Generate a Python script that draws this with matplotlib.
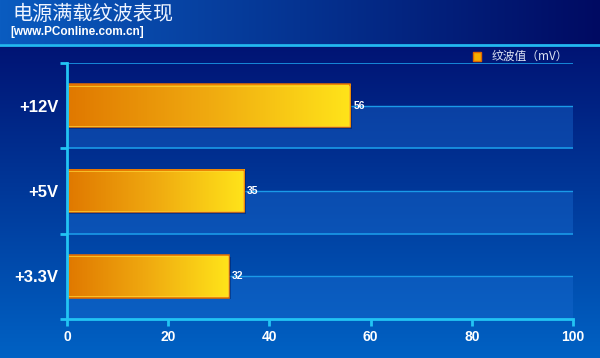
import numpy as np
import matplotlib
matplotlib.use('Agg')
import matplotlib.pyplot as plt
from matplotlib.patches import Rectangle

plt.rcParams['font.family'] = ['Liberation Sans', 'Noto Sans CJK SC', 'DejaVu Sans']

# data
categories = ['+3.3V', '+5V', '+12V']
ripple = [32, 35, 56]
xticks = [0, 20, 40, 60, 80, 100]
title = '电源满载纹波表现'
subtitle = '[www.PConline.com.cn]'
legend_label = '纹波值（mV）'

W, H = 600, 358
fig = plt.figure(figsize=(W / 100, H / 100), dpi=100)

# background: header with horizontal gradient, body with vertical gradient
bg = fig.add_axes([0, 0, 1, 1], zorder=-10)
img = np.zeros((H, W, 3))
top = np.array([0x00, 0x08, 0x68]) / 255
bot = np.array([0x00, 0x62, 0xc4]) / 255
t = np.linspace(0, 1, H)[:, None]
img[:] = (top * (1 - t) + bot * t)[:, None, :]
hl = np.array([0x0a, 0x5c, 0xc0]) / 255
hr = np.array([0x00, 0x0a, 0x62]) / 255
s = np.linspace(0, 1, W)[:, None]
img[:44] = (hl * (1 - s) + hr * s)[None, :, :]
bg.imshow(img, extent=[0, W, H, 0], aspect='auto')
bg.plot([0, W], [44.5, 44.5], color='#22b8f0', lw=2)
bg.set_xlim(0, W)
bg.set_ylim(H, 0)
bg.axis('off')

fig.text(12 / W, 1 - 15 / H, title, color='#eef4ff', fontsize=14.5,
         family=['Noto Sans CJK SC'], va='center', ha='left')
fig.text(10 / W, 1 - 32 / H, subtitle, color='white', fontsize=8.5,
         fontweight='bold', va='center', ha='left')

# legend
fig.patches.append(Rectangle((473 / W, 1 - 60.5 / H), 8 / W, 8.5 / H,
                             transform=fig.transFigure, facecolor='#f5b000',
                             edgecolor='#e06800', lw=1))
fig.text(492 / W, 1 - 56 / H, legend_label, color='#dde4f4', fontsize=8.5,
         family=['Noto Sans CJK SC', 'DejaVu Sans'], va='center', ha='left')

ax = fig.add_axes([67 / W, 1 - 319 / H, (573 - 67) / W, (319 - 63) / H])
ax.patch.set_alpha(0)

n = len(categories)
for i in range(n):
    ax.axhspan(i, i + 0.5, color='#1a6ad0', alpha=0.42, lw=0, zorder=0)
    ax.axhline(i + 0.5, color='#1a9ae8', lw=1, zorder=1)
    ax.axhline(i + 1, color='#1a9ae8', lw=1.2, zorder=1)

grad = np.linspace(0, 1, 256)[None, :]
cmap = matplotlib.colors.LinearSegmentedColormap.from_list(
    'bar', ['#e07800', '#f0aa10', '#ffe41a'])
bh = 0.5
for i, v in enumerate(ripple):
    y = i + 0.5
    ax.add_patch(Rectangle((0.4, y - bh / 2 - 0.02), v, bh, facecolor='#000a40',
                           alpha=0.35, lw=0, zorder=2))
    ax.imshow(grad, cmap=cmap, extent=[0, v, y - bh / 2, y + bh / 2],
              aspect='auto', zorder=3)
    ax.add_patch(Rectangle((0, y - bh / 2), v, bh, fill=False,
                           edgecolor='#e87000', lw=1.1, zorder=4))
    ax.add_patch(Rectangle((0.2, y - bh / 2 + 0.015), v - 0.4, bh - 0.03, fill=False,
                           edgecolor='#ffd838', lw=0.5, zorder=4))
    ax.text(v + 0.6, y, str(v), color='white', fontsize=7.5, fontweight='bold',
            va='center', ha='left', zorder=5)

ax.set_xlim(0, 100)
ax.set_ylim(0, n)

for side in ['top', 'right']:
    ax.spines[side].set_visible(False)
for side in ['left', 'bottom']:
    ax.spines[side].set_color('#22c4f4')
    ax.spines[side].set_linewidth(2)
    ax.spines[side].set_zorder(6)

ax.set_xticks(xticks)
ax.set_xticklabels([str(x) for x in xticks], fontweight='bold')
ax.tick_params(axis='x', colors='#22c4f4', width=2, length=5, labelcolor='white',
               labelsize=10, pad=3)
ax.set_yticks(range(n + 1))
ax.set_yticklabels([])
ax.tick_params(axis='y', which='major', colors='#22c4f4', width=2, length=5)
ax.set_yticks([i + 0.5 for i in range(n)], minor=True)
ax.set_yticklabels(categories, minor=True, fontweight='bold')
ax.tick_params(axis='y', which='minor', length=0, pad=6, labelsize=12,
               labelcolor='white')

fig.savefig('out.png', dpi=100)
